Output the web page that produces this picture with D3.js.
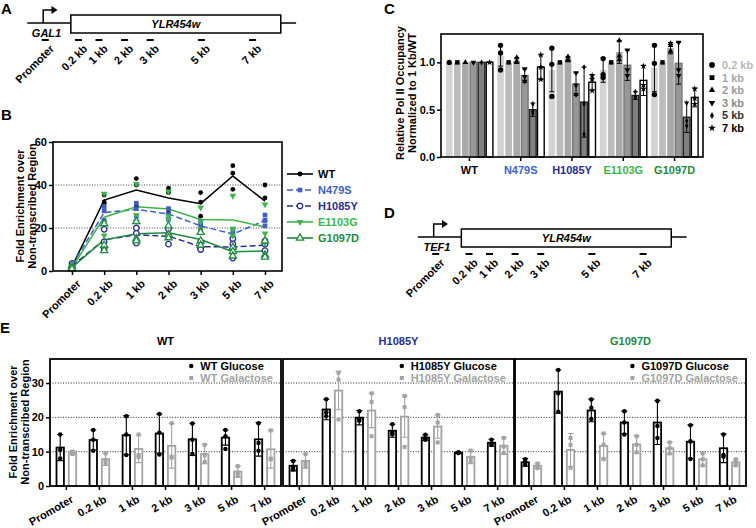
<!DOCTYPE html>
<html>
<head>
<meta charset="utf-8">
<script src="https://cdn.jsdelivr.net/npm/d3@7"></script>
<style>
  body { margin: 0; background: #fff; }
  svg { font-family: "Liberation Sans", Arial, sans-serif; font-weight: bold; }
</style>
</head>
<body>
<svg id="fig" width="756" height="528"></svg>
<script>
// ---- data ----
var sites = ["Promoter", "0.2 kb", "1 kb", "2 kb", "3 kb", "5 kb", "7 kb"];
var probeKb = [-1.1, 0.2, 1, 2, 3, 5, 7];
var strains = ["WT", "N479S", "H1085Y", "E1103G", "G1097D"];
var strainColors = ["#000000", "#3f5fc4", "#2b2d8c", "#3cb54a", "#1f8a3c"];

// panel B: fold enrichment replicates [strain][site][rep]
var bPts = [
  [[3, 2, 1], [35.3, 32.2, 31.5], [43, 40, 30], [38.5, 36.5, 27], [36.5, 32, 25.5], [49, 45.5, 38], [40, 34, 23.5]],
  [[3.5, 2.5, 2], [30, 28, 23.5], [31.5, 29, 25.5], [29, 26.5, 24], [23, 21, 19], [19.5, 17.5, 14.5], [26, 23.5, 21]],
  [[3.5, 2, 1.5], [19.4, 13.6, 10.5], [20, 17.5, 13], [19.5, 16.5, 12.5], [13.5, 10.5, 10], [15, 12.5, 6], [14, 12.5, 9.5]],
  [[2, 1.5, 1], [36, 22.5, 16.5], [40.5, 26, 23], [37, 25.5, 24], [29.5, 23, 19.5], [35, 19.5, 16.5], [31, 17.5, 13]],
  [[2.5, 1.5, 1], [22, 12, 9.5], [23, 15, 14], [21, 17, 15.5], [18, 14, 12], [11, 9, 7], [14, 7.5, 6.5]]
];
var bTicks = [0, 20, 40, 60];

// panel C: relative occupancy [strain][kb]
var cSites = ["0.2 kb", "1 kb", "2 kb", "3 kb", "5 kb", "7 kb"];
var cMean = [
  [1, 1, 1, 1, 1, 1],
  [1.07, 1, 1.02, 0.86, 0.50, 0.95],
  [0.92, 1, 1.04, 0.77, 0.58, 0.79],
  [0.92, 1, 1.11, 0.97, 0.65, 0.81],
  [0.94, 1, 1.15, 0.99, 0.42, 0.63]
];
var cSd = [
  [0, 0, 0, 0, 0, 0],
  [0.11, 0, 0.03, 0.07, 0.07, 0.13],
  [0.23, 0, 0.02, 0.12, 0.37, 0.08],
  [0.13, 0, 0.12, 0.16, 0.04, 0.16],
  [0.25, 0, 0.06, 0.22, 0.16, 0.10]
];
var cPts = [
  [[1], [1], [1], [1], [1], [1]],
  [[1.18, 1.10, 0.92], [1], [1.05, 1.01, 1.0], [0.93, 0.85, 0.80], [0.56, 0.48, 0.46], [1.08, 0.95, 0.82]],
  [[1.15, 0.98, 0.64], [1], [1.06, 1.03, 1.02], [0.89, 0.76, 0.66], [0.95, 0.56, 0.24], [0.86, 0.82, 0.70]],
  [[1.04, 0.87, 0.84], [1], [1.23, 1.07, 1.03], [1.13, 0.92, 0.86], [0.69, 0.64, 0.63], [0.96, 0.76, 0.72]],
  [[1.18, 0.99, 0.66], [1], [1.20, 1.18, 1.12], [1.21, 0.92, 0.86], [0.57, 0.38, 0.33], [0.72, 0.62, 0.56]]
];
var cTicks = [0, 0.5, 1.0];

// panel E: glucose vs galactose [strain][site]
var eStrains = ["WT", "H1085Y", "G1097D"];
var eColors = ["#000000", "#2b2d8c", "#1f8a3c"];
var eMeanGlu = [
  [11.2, 13.4, 14.8, 15.3, 13.6, 14.1, 13.6],
  [5.9, 22.3, 19.9, 16.1, 14.1, 9.7, 12.6],
  [6.9, 27.5, 22.0, 18.5, 18.5, 12.9, 11.0]
];
var eSdGlu = [
  [3.8, 2.9, 5.7, 5.7, 4.7, 2.2, 4.9],
  [1.5, 3.0, 2.1, 1.9, 0.8, 0.2, 1.0],
  [1.1, 6.3, 3.3, 3.3, 6.4, 4.9, 4.2]
];
var ePtsGlu = [
  [[15, 10.5, 8], [16.3, 13.5, 10.3], [20.3, 15, 9], [21, 15.5, 9.2], [18.2, 13.5, 9.3], [16.3, 14.5, 10.8], [18.3, 12.5, 10.3]],
  [[7.3, 5.5, 4.8], [25.3, 21.5, 20.3], [21.8, 19.5, 19], [18, 15.5, 15], [14.9, 13.7, 13.5], [9.8, 9.6, 9.6], [13.5, 12.3, 12]],
  [[7.8, 7, 6.2], [33.8, 27, 21.6], [25.2, 22.8, 19.5], [21.8, 18.5, 15], [24.8, 17.5, 14], [17.7, 13, 7.9], [15, 9, 8.5]]
];
var eMeanGal = [
  [9.7, 7.8, 10.8, 11.7, 9.3, 4.2, 10.7],
  [7.3, 27.8, 22.0, 20.2, 17.3, 8.5, 11.7],
  [5.9, 10.5, 11.7, 12.1, 11.0, 7.8, 6.9]
];
var eSdGal = [
  [0.6, 1.8, 4.0, 6.5, 2.8, 1.6, 5.5],
  [2.1, 5.6, 5.0, 6.0, 3.4, 2.0, 2.4],
  [0.8, 4.8, 3.6, 2.5, 1.7, 1.8, 0.9]
];
var ePtsGal = [
  [[10, 9.3, 9.7], [9.5, 7.5, 6.5], [15, 9, 8.4], [18.3, 8.5, 8.3], [12, 9, 7], [5.8, 3.9, 3], [16.2, 8, 7.8]],
  [[9.3, 6.8, 5.8], [33, 31, 19.4], [27, 24.5, 14.5], [26.2, 23, 11.4], [20.7, 18.5, 12.7], [10.3, 8.2, 7], [14, 11.5, 9.6]],
  [[6.5, 6, 5.2], [14, 12, 5.3], [15.3, 12, 7.8], [14.5, 12, 9.8], [12.7, 11, 9.5], [9.5, 7.8, 6], [7.8, 7, 6]]
];
var eTicks = [0, 10, 20, 30];

// ---- drawing ----
var svg = d3.select("#fig");
var gray = "#a3a3a3";

function panelLabel(t, x, y) {
  svg.append("text").attr("x", x).attr("y", y).attr("font-size", 15).text(t);
}

function styleAxis(g) {
  g.select(".domain").remove();
  g.attr("font-family", null).attr("font-size", 11);
  g.selectAll(".tick line").attr("stroke-width", 1.5);
  g.selectAll(".tick text").attr("fill", "#000");
}

function yLabel(g, x, y, lines) {
  var t = g.append("text").attr("transform", "translate(" + x + "," + y + ") rotate(-90)")
    .attr("text-anchor", "middle").attr("font-size", 11);
  lines.forEach(function(s, i) {
    t.append("tspan").attr("x", 0).attr("dy", i === 0 ? 0 : 12).text(s);
  });
}

// slanted category labels: each label sits in its own rotated group
function rotLabels(g, xs, y, angle) {
  var lg = g.selectAll(null).data(sites).join("g")
    .attr("transform", function(d, i) { return "translate(" + (xs[i] + 4) + "," + y + ")"; });
  lg.append("g").attr("transform", "rotate(" + angle + ")")
    .append("text")
    .attr("text-anchor", "end").attr("dy", "0.7em").attr("font-size", 11)
    .text(function(d) { return d; });
}

// gene schematic (A and D)
function drawGene(x0, y0, promName) {
  var g = svg.append("g");
  var kb = d3.scaleLinear().domain([0, 1]).range([x0, x0 + 25.6]);
  g.append("line").attr("x1", kb(-1.8)).attr("x2", kb(8.7)).attr("y1", y0).attr("y2", y0)
    .attr("stroke", "#000").attr("stroke-width", 1.5);
  g.append("rect").attr("x", kb(-0.1)).attr("y", y0 - 8).attr("width", kb(8.1) - kb(-0.1)).attr("height", 18)
    .attr("fill", "#fff").attr("stroke", "#000").attr("stroke-width", 1.5);
  g.append("text").attr("x", (kb(-0.1) + kb(8.1)) / 2).attr("y", y0 + 5).attr("text-anchor", "middle")
    .attr("font-size", 11).attr("font-style", "italic").text("YLR454w");
  g.append("path").attr("d", "M" + kb(-1.18) + "," + y0 + "V" + (y0 - 13) + "H" + (kb(-0.62) - 5))
    .attr("fill", "none").attr("stroke", "#000").attr("stroke-width", 1.5);
  g.append("path").attr("d", "M" + (kb(-0.62) - 6) + "," + (y0 - 17) + "L" + kb(-0.62) + "," + (y0 - 13) + "L" + (kb(-0.62) - 6) + "," + (y0 - 9) + "Z")
    .attr("fill", "#000");
  g.append("text").attr("x", kb(-1.05)).attr("y", y0 + 14).attr("text-anchor", "middle")
    .attr("font-size", 11).attr("font-style", "italic").text(promName);
  g.selectAll(null).data(probeKb).join("line")
    .attr("x1", function(d) { return kb(d) - 3.5; }).attr("x2", function(d) { return kb(d) + 3.5; })
    .attr("y1", y0 + 17).attr("y2", y0 + 17).attr("stroke", "#000").attr("stroke-width", 2);
  rotLabels(g, probeKb.map(kb), y0 + 21, -45);
}

panelLabel("A", 1, 14);
drawGene(73.4, 23, "GAL1");
panelLabel("D", 384, 218);
drawGene(463.9, 237, "TEF1");

// ---- panel B ----
(function() {
  panelLabel("B", 1, 120);
  var box = { left: 53, right: 282, top: 142, bottom: 271 };
  var g = svg.append("g");
  var x = d3.scalePoint().domain(sites).range([72, 265]);
  var y = d3.scaleLinear().domain([0, 60]).range([box.bottom, box.top]);
  g.selectAll(null).data([20, 40]).join("line")
    .attr("x1", box.left).attr("x2", box.right).attr("y1", y).attr("y2", y)
    .attr("stroke", "#444").attr("stroke-dasharray", "1,1.6");
  var dashes = [null, "6,3", "6,3", null, null];
  var filled = [true, true, false, true, false];
  var shapes = [d3.symbolCircle, d3.symbolSquare, d3.symbolCircle, d3.symbolTriangle, d3.symbolTriangle];
  var sizes = [18, 22, 24, 20, 22];
  var rot = [0, 0, 0, 180, 0];
  function marker(sel, i) {
    sel.attr("d", d3.symbol().type(shapes[i]).size(sizes[i]))
      .attr("fill", filled[i] ? strainColors[i] : "#fff")
      .attr("stroke", strainColors[i]).attr("stroke-width", filled[i] ? 0 : 1.3);
  }
  var line = d3.line().x(function(d, i) { return x(sites[i]); }).y(function(d) { return y(d3.mean(d)); });
  bPts.forEach(function(ser, i) {
    g.append("path").datum(ser).attr("d", line).attr("fill", "none")
      .attr("stroke", strainColors[i]).attr("stroke-width", 1.5).attr("stroke-dasharray", dashes[i]);
  });
  bPts.forEach(function(ser, i) {
    var pts = [];
    ser.forEach(function(reps, j) { reps.forEach(function(v) { pts.push([sites[j], v]); }); });
    g.selectAll(null).data(pts).join("path")
      .attr("transform", function(d) { return "translate(" + x(d[0]) + "," + y(d[1]) + ") rotate(" + rot[i] + ")"; })
      .call(marker, i);
  });
  g.append("rect").attr("x", box.left).attr("y", box.top).attr("width", box.right - box.left)
    .attr("height", box.bottom - box.top).attr("fill", "none").attr("stroke", "#000").attr("stroke-width", 1.6);
  g.append("g").attr("transform", "translate(" + box.left + ",0)")
    .call(d3.axisLeft(y).tickValues(bTicks).tickSize(4).tickPadding(2)).call(styleAxis);
  g.append("g").attr("transform", "translate(0," + box.bottom + ")")
    .call(d3.axisBottom(x).tickSize(4).tickFormat("")).call(styleAxis);
  rotLabels(g, sites.map(x), box.bottom + 8, -45);
  yLabel(g, 24, 206, ["Fold Enrichment over", "Non-transcribed Region"]);
  // legend
  strains.forEach(function(s, i) {
    var ly = 174 + i * 16;
    g.append("line").attr("x1", 287).attr("x2", 313).attr("y1", ly).attr("y2", ly)
      .attr("stroke", strainColors[i]).attr("stroke-width", 1.6).attr("stroke-dasharray", dashes[i]);
    g.append("path").attr("transform", "translate(300," + ly + ") rotate(" + rot[i] + ")").call(marker, i);
    g.append("text").attr("x", 318).attr("y", ly).attr("dy", "0.36em").attr("font-size", 11)
      .attr("fill", strainColors[i]).text(s);
  });
})();

// ---- panel C ----
(function() {
  panelLabel("C", 384, 14);
  var box = { left: 441, right: 703, top: 34, bottom: 157 };
  var g = svg.append("g");
  var x0 = d3.scaleBand().domain(strains).range([box.left, box.right]).paddingInner(0.084).paddingOuter(0.096);
  var x1 = d3.scaleBand().domain(cSites).range([0, x0.bandwidth()]).paddingInner(0.17);
  var y = d3.scaleLinear().domain([0, 1.3]).range([box.bottom, box.top]);
  var fills = ["#d3d3d3", "#bcbcbc", "#a9a9a9", "#979797", "#808080", "#ffffff"];
  var strokes = [null, null, null, "#777", "#222", "#000"];
  var shapes = [d3.symbolCircle, d3.symbolSquare, d3.symbolTriangle, d3.symbolTriangle, d3.symbolDiamond, d3.symbolStar];
  var sizes = [22, 20, 14, 14, 10, 14];
  var rot = [0, 0, 0, 180, 0, 0];
  var textCol = ["#b8b8b8", "#a8a8a8", "#999999", "#8a8a8a", "#333333", "#000000"];
  strains.forEach(function(s, i) {
    cSites.forEach(function(k, j) {
      var bx = x0(s) + x1(k), bw = x1.bandwidth(), cx = bx + bw / 2;
      var m = cMean[i][j], sd = cSd[i][j];
      g.append("rect").attr("x", bx).attr("y", y(m)).attr("width", bw).attr("height", y(0) - y(m))
        .attr("fill", fills[j]).attr("stroke", strokes[j]).attr("stroke-width", 1.4);
      if (sd > 0) {
        g.append("path").attr("d", "M" + cx + "," + y(m - sd) + "V" + y(m + sd) +
            "M" + (cx - 2.5) + "," + y(m + sd) + "H" + (cx + 2.5) +
            "M" + (cx - 2.5) + "," + y(m - sd) + "H" + (cx + 2.5))
          .attr("stroke", "#000").attr("stroke-width", 1).attr("fill", "none");
      }
      g.selectAll(null).data(cPts[i][j]).join("path")
        .attr("transform", function(v) { return "translate(" + cx + "," + y(v) + ") rotate(" + rot[j] + ")"; })
        .attr("d", d3.symbol().type(shapes[j]).size(sizes[j])).attr("fill", "#000");
    });
  });
  g.append("rect").attr("x", box.left).attr("y", box.top).attr("width", box.right - box.left)
    .attr("height", box.bottom - box.top).attr("fill", "none").attr("stroke", "#000").attr("stroke-width", 1.6);
  g.append("g").attr("transform", "translate(" + box.left + ",0)")
    .call(d3.axisLeft(y).tickValues(cTicks).tickFormat(d3.format(".1f")).tickSize(4).tickPadding(2)).call(styleAxis);
  var xa = g.append("g").attr("transform", "translate(0," + box.bottom + ")")
    .call(d3.axisBottom(x0).tickSize(4).tickPadding(5)).call(styleAxis);
  xa.selectAll(".tick text").attr("fill", function(d, i) { return strainColors[i]; });
  yLabel(g, 404, 93, ["Relative Pol II Occupancy", "Normalized to 1 Kb/WT"]);
  cSites.forEach(function(k, j) {
    var ly = 65 + j * 12.6;
    g.append("path").attr("transform", "translate(712," + ly + ") rotate(" + rot[j] + ")")
      .attr("d", d3.symbol().type(shapes[j]).size(sizes[j] + 4)).attr("fill", "#000");
    g.append("text").attr("x", 722).attr("y", ly).attr("dy", "0.36em").attr("font-size", 11)
      .attr("fill", textCol[j]).text(k);
  });
})();

// ---- panel E ----
(function() {
  panelLabel("E", 0, 333);
  var top = 359, bottom = 486, panelW = 231;
  var panelX = [50, 283, 515];
  var y = d3.scaleLinear().domain([0, 37]).range([bottom, top]);
  var g = svg.append("g");
  eStrains.forEach(function(s, p) {
    var left = panelX[p], right = left + panelW;
    var x = d3.scaleBand().domain(sites).range([left, right]).paddingInner(0.35).paddingOuter(0.17);
    var x1 = d3.scaleBand().domain(["glu", "gal"]).range([0, x.bandwidth()]).paddingInner(0.25);
    g.selectAll(null).data([10, 20, 30]).join("line")
      .attr("x1", left).attr("x2", right).attr("y1", y).attr("y2", y)
      .attr("stroke", "#222").attr("stroke-dasharray", "1,1.6");
    var conds = [
      { key: "glu", col: "#000", mean: eMeanGlu[p], sd: eSdGlu[p], pts: ePtsGlu[p], shape: d3.symbolCircle, size: 16 },
      { key: "gal", col: gray, mean: eMeanGal[p], sd: eSdGal[p], pts: ePtsGal[p], shape: d3.symbolSquare, size: 16 }
    ];
    conds.forEach(function(c) {
      sites.forEach(function(site, j) {
        var bx = x(site) + x1(c.key), bw = x1.bandwidth(), cx = bx + bw / 2;
        var m = c.mean[j], sd = c.sd[j];
        g.append("rect").attr("x", bx + 0.9).attr("y", y(m)).attr("width", bw - 1.8).attr("height", y(0) - y(m))
          .attr("fill", "#fff").attr("stroke", c.col).attr("stroke-width", 1.8);
        g.append("path").attr("d", "M" + cx + "," + y(m - sd) + "V" + y(m + sd) +
            "M" + (cx - 3) + "," + y(m + sd) + "H" + (cx + 3) +
            "M" + (cx - 3) + "," + y(m - sd) + "H" + (cx + 3))
          .attr("stroke", c.col).attr("stroke-width", 1.1).attr("fill", "none");
        g.selectAll(null).data(c.pts[j]).join("path")
          .attr("transform", function(v) { return "translate(" + cx + "," + y(v) + ")"; })
          .attr("d", d3.symbol().type(c.shape).size(c.size)).attr("fill", c.col);
      });
    });
    g.append("rect").attr("x", left).attr("y", top).attr("width", panelW).attr("height", bottom - top)
      .attr("fill", "none").attr("stroke", "#000").attr("stroke-width", 1.8);
    if (p === 0) {
      g.append("g").attr("transform", "translate(" + left + ",0)")
        .call(d3.axisLeft(y).tickValues(eTicks).tickSize(4).tickPadding(2)).call(styleAxis);
    }
    g.append("g").attr("transform", "translate(0," + bottom + ")")
      .call(d3.axisBottom(x).tickSize(4).tickFormat("")).call(styleAxis);
    rotLabels(g, sites.map(function(d) { return x(d) + x.bandwidth() / 2; }), bottom + 9, -30);
    g.append("text").attr("x", (left + right) / 2).attr("y", 345).attr("text-anchor", "middle")
      .attr("font-size", 11).attr("fill", eColors[p]).text(s);
    // legend
    var t1 = g.append("text").attr("y", 366).attr("dy", "0.36em").attr("font-size", 11).attr("fill", "#000").text(s + " Glucose");
    var t2 = g.append("text").attr("y", 378).attr("dy", "0.36em").attr("font-size", 11).attr("fill", gray).text(s + " Galactose");
    var w = Math.max(t1.node().getComputedTextLength(), t2.node().getComputedTextLength());
    var tx = right - 8 - w;
    t1.attr("x", tx); t2.attr("x", tx);
    g.append("path").attr("transform", "translate(" + (tx - 9) + ",366)").attr("d", d3.symbol().type(d3.symbolCircle).size(16)).attr("fill", "#000");
    g.append("path").attr("transform", "translate(" + (tx - 9) + ",378)").attr("d", d3.symbol().type(d3.symbolSquare).size(16)).attr("fill", gray);
  });
  yLabel(g, 17, 422, ["Fold Enrichment over", "Non-transcribed Region"]);
})();
</script>
</body>
</html>
